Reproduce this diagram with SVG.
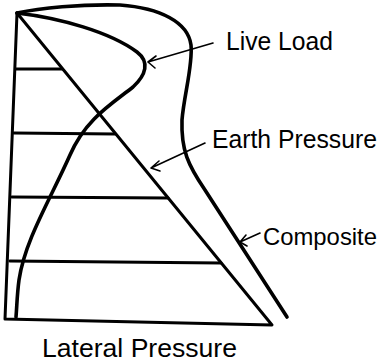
<svg xmlns="http://www.w3.org/2000/svg" width="383" height="364" viewBox="0 0 383 364">
<style>
.ln{fill:none;stroke:#000;stroke-width:3;stroke-linecap:round;stroke-linejoin:round}
.cv{fill:none;stroke:#000;stroke-width:3.6;stroke-linecap:round;stroke-linejoin:round}
.ar{fill:none;stroke:#000;stroke-width:1.6;stroke-linecap:round;stroke-linejoin:round}
.lb{font-family:"Liberation Sans",Arial,sans-serif;fill:#000;font-size:25px}
</style>
<rect width="383" height="364" fill="#fff"/>
<g id="frame">
<path class="ln" d="M17,13 L5,319 L272,325 L17,13"/>
<path class="ln" d="M16,69 L62,69 M14,133 L115,134 M12,197 L168,198 M10,261 L221,263"/>
</g>
<g id="composite">
<path class="cv" d="M17,13 C40,8 80,4 120,5 C160,8 188,22 191,45 C193,65 184,95 182,120 C181,150 188,165 205,190 L287,317"/>
</g>
<g id="live-load">
<path class="cv" d="M17,13 C60,18 110,32 137,52 C150,62 146,75 133,87 C110,105 85,120 70,155 C50,200 25,240 19,280 C17,295 17,305 16,317"/>
</g>
<g id="connectors">
<path class="ar" d="M213,43 L148,62 M148,62 L156,56 M148,62 L155,68"/>
<path class="ar" d="M205,143 L151,168 M151,168 L159,161 M151,168 L160,171"/>
<path class="ar" d="M260,233 L240,242 M240,242 L246,235 M240,242 L247,246"/>
</g>
<g id="labels">
<text class="lb" x="226" y="50" textLength="107" lengthAdjust="spacingAndGlyphs">Live Load</text>
<text class="lb" x="212" y="148" textLength="165" lengthAdjust="spacingAndGlyphs">Earth Pressure</text>
<text class="lb" x="263" y="245" style="font-size:24px" textLength="114" lengthAdjust="spacingAndGlyphs">Composite</text>
<text class="lb" x="42" y="357" style="font-size:26px" textLength="195" lengthAdjust="spacingAndGlyphs">Lateral Pressure</text>
</g>
</svg>
